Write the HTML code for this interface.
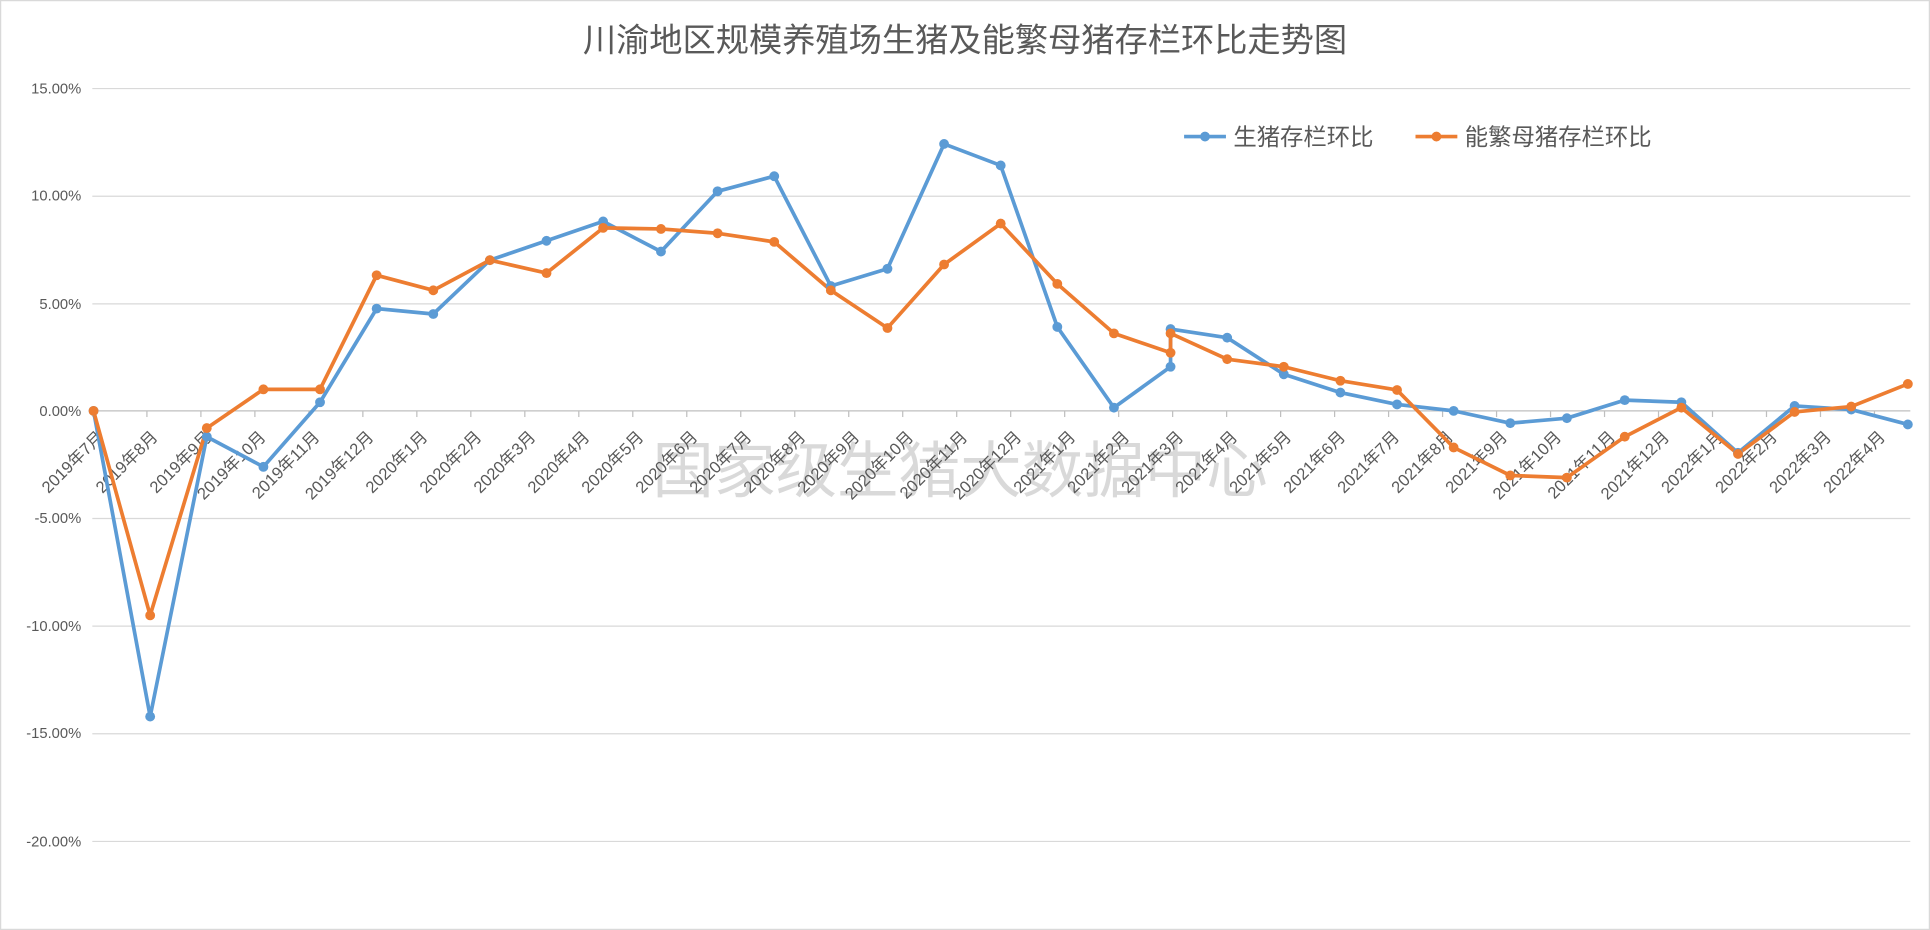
<!DOCTYPE html>
<html><head><meta charset="utf-8"><style>
html,body{margin:0;padding:0;background:#fff;}
svg{display:block;font-family:"Liberation Sans","Noto Sans CJK SC",sans-serif;}
</style></head><body>
<svg width="1930" height="930" viewBox="0 0 1568 756" preserveAspectRatio="none" xmlns="http://www.w3.org/2000/svg">
<rect x="0.5" y="0.5" width="1567" height="755" fill="#fff" stroke="#d9d9d9"/>
<text x="784" y="42" text-anchor="middle" font-size="27" fill="#595959">川渝地区规模养殖场生猪及能繁母猪存栏环比走势图</text>
<g stroke="#d9d9d9" stroke-width="1">
<line x1="75" x2="1552" y1="72" y2="72"/><line x1="75" x2="1552" y1="159.5" y2="159.5"/>
<line x1="75" x2="1552" y1="247" y2="247"/><line x1="75" x2="1552" y1="421.5" y2="421.5"/>
<line x1="75" x2="1552" y1="509" y2="509"/><line x1="75" x2="1552" y1="596.5" y2="596.5"/>
<line x1="75" x2="1552" y1="684" y2="684"/>
</g>
<line x1="75" x2="1552" y1="334" y2="334" stroke="#bfbfbf"/>
<g id="ticks" stroke="#bfbfbf"></g>
<g font-size="12" fill="#595959" text-anchor="end">
<text x="66" y="76">15.00%</text><text x="66" y="163">10.00%</text><text x="66" y="251">5.00%</text>
<text x="66" y="338">0.00%</text><text x="66" y="425">-5.00%</text><text x="66" y="513">-10.00%</text>
<text x="66" y="600">-15.00%</text><text x="66" y="688">-20.00%</text>
</g>
<text x="780" y="400" text-anchor="middle" font-size="50" fill="#d0d0d0" opacity="0.8">国家级生猪大数据中心</text>
<g id="labels" font-size="13.5" fill="#595959" text-anchor="end"></g>
<polyline id="b" fill="none" stroke="#5b9bd5" stroke-width="3" stroke-linejoin="round"/>
<polyline id="o" fill="none" stroke="#ed7d31" stroke-width="3" stroke-linejoin="round"/>
<g id="bd" fill="#5b9bd5"></g><g id="od" fill="#ed7d31"></g>
<line x1="962" x2="996" y1="111" y2="111" stroke="#5b9bd5" stroke-width="3"/><circle cx="979" cy="111" r="4" fill="#5b9bd5"/>
<text x="1002" y="118" font-size="19" fill="#595959">生猪存栏环比</text>
<line x1="1150" x2="1184" y1="111" y2="111" stroke="#ed7d31" stroke-width="3"/><circle cx="1167" cy="111" r="4" fill="#ed7d31"/>
<text x="1190" y="118" font-size="19" fill="#595959">能繁母猪存栏环比</text>
</svg>
<script>
var xs=[76,122,168,214,260,306,352,398,444,490,537,583,629,675,721,767,813,859,905,951,951,997,1043,1089,1135,1181,1227,1273,1320,1366,1412,1458,1504,1550];
var B=[0,-14.2,-1.2,-2.6,0.4,4.75,4.5,7.0,7.9,8.8,7.4,10.2,10.9,5.8,6.6,12.4,11.4,3.9,0.15,2.05,3.8,3.4,1.7,0.85,0.3,0,-0.57,-0.34,0.5,0.4,-1.95,0.23,0.06,-0.63];
var O=[0,-9.5,-0.8,1.0,1.0,6.3,5.6,7.0,6.4,8.5,8.45,8.25,7.85,5.6,3.85,6.8,8.7,5.9,3.6,2.7,3.6,2.4,2.05,1.4,0.97,-1.7,-3.0,-3.1,-1.2,0.15,-2.0,-0.05,0.2,1.25];
function y(v){return 334-v*17.5;}
var NS="http://www.w3.org/2000/svg";
function draw(d,pl,g){var p=[];for(var i=0;i<d.length;i++){p.push(xs[i]+","+y(d[i]));var c=document.createElementNS(NS,"circle");c.setAttribute("cx",xs[i]);c.setAttribute("cy",y(d[i]));c.setAttribute("r",4);document.getElementById(g).appendChild(c);}document.getElementById(pl).setAttribute("points",p.join(" "));}
draw(B,"b","bd");draw(O,"o","od");
var tg=document.getElementById("ticks");
for(var k=0;k<=34;k++){var tx=75.5+43.86*k;if(tx>1552)break;var l=document.createElementNS(NS,"line");l.setAttribute("x1",tx);l.setAttribute("x2",tx);l.setAttribute("y1",334);l.setAttribute("y2",339);tg.appendChild(l);}
var L=[];for(var m=7;m<=12;m++)L.push("2019年"+m+"月");for(var m=1;m<=12;m++)L.push("2020年"+m+"月");for(var m=1;m<=12;m++)L.push("2021年"+m+"月");for(var m=1;m<=4;m++)L.push("2022年"+m+"月");
var lg=document.getElementById("labels");
for(var i=0;i<L.length;i++){var x=85+i*43.86,t=document.createElementNS(NS,"text");t.setAttribute("x",x);t.setAttribute("y",356);t.setAttribute("transform","rotate(-45 "+x+" 356)");t.textContent=L[i];lg.appendChild(t);}
</script>
</body></html>
